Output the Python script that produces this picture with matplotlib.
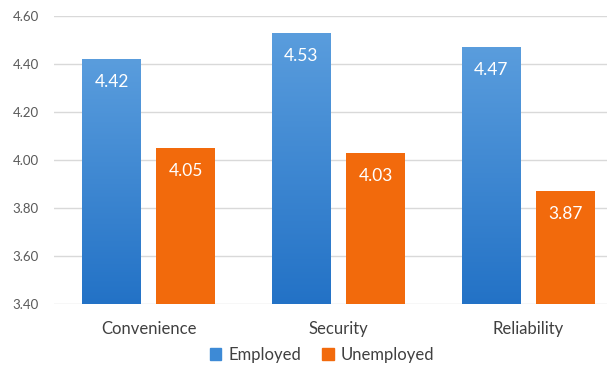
import matplotlib.pyplot as plt
import numpy as np
from matplotlib.colors import LinearSegmentedColormap

# survey means by group
categories = ["Convenience", "Security", "Reliability"]
employed = [4.42, 4.53, 4.47]
unemployed = [4.05, 4.03, 3.87]
yticks = [3.40, 3.60, 3.80, 4.00, 4.20, 4.40, 4.60]

plt.rcParams['font.family'] = ['Lato', 'DejaVu Sans']

fig = plt.figure(figsize=(6.07, 3.69), dpi=100)
ax = fig.add_axes([54 / 607, 65 / 369, 569 / 607, 288 / 369])

x = np.arange(len(categories))
w = 0.31
off = 0.195

blue_cmap = LinearSegmentedColormap.from_list("b", ["#2372c6", "#5a9ddd"])
bars_e = ax.bar(x - off, employed, w, color="#3d8ad6", zorder=2)
bars_u = ax.bar(x + off, unemployed, w, color="#f26a0c", zorder=2)

# vertical gradient on the blue bars
grad = np.linspace(0, 1, 256).reshape(-1, 1)
for b in bars_e:
    x0, y0 = b.get_x(), 3.40
    im = ax.imshow(grad, cmap=blue_cmap, aspect="auto", origin="lower",
                   extent=[x0, x0 + b.get_width(), y0, b.get_height()], zorder=2.1)
    im.set_clip_path(b)

for bars, vals in ((bars_e, employed), (bars_u, unemployed)):
    for b, v in zip(bars, vals):
        ax.text(b.get_x() + b.get_width() / 2, v - 0.095, f"{v:.2f}",
                ha="center", va="center", color="white", fontsize=12.5, zorder=3)

ax.set_xlim(-0.5, 2.5)
ax.set_ylim(3.40, 4.60)
ax.set_yticks(yticks)
ax.set_yticklabels([f"{t:.2f}" for t in yticks], color="#595959", fontsize=9.5)
ax.set_xticks(x)
ax.set_xticklabels(categories, color="#404040", fontsize=12)
ax.tick_params(axis="both", length=0)
ax.tick_params(axis="y", pad=11)
ax.tick_params(axis="x", pad=12)
ax.grid(axis="y", color="#d9d9d9", linewidth=1, zorder=0)
for s in ax.spines.values():
    s.set_visible(False)

h1 = plt.Rectangle((0, 0), 1, 1, color="#3d8ad6")
h2 = plt.Rectangle((0, 0), 1, 1, color="#f26a0c")
fig.legend([h1, h2], ["Employed", "Unemployed"], loc="center", ncol=2,
           bbox_to_anchor=(322 / 607, 1 - 355 / 369), frameon=False,
           fontsize=12, handlelength=0.7, handleheight=0.7, handletextpad=0.4,
           columnspacing=1.3, labelcolor="#404040")

fig.savefig("out.png", dpi=100)
